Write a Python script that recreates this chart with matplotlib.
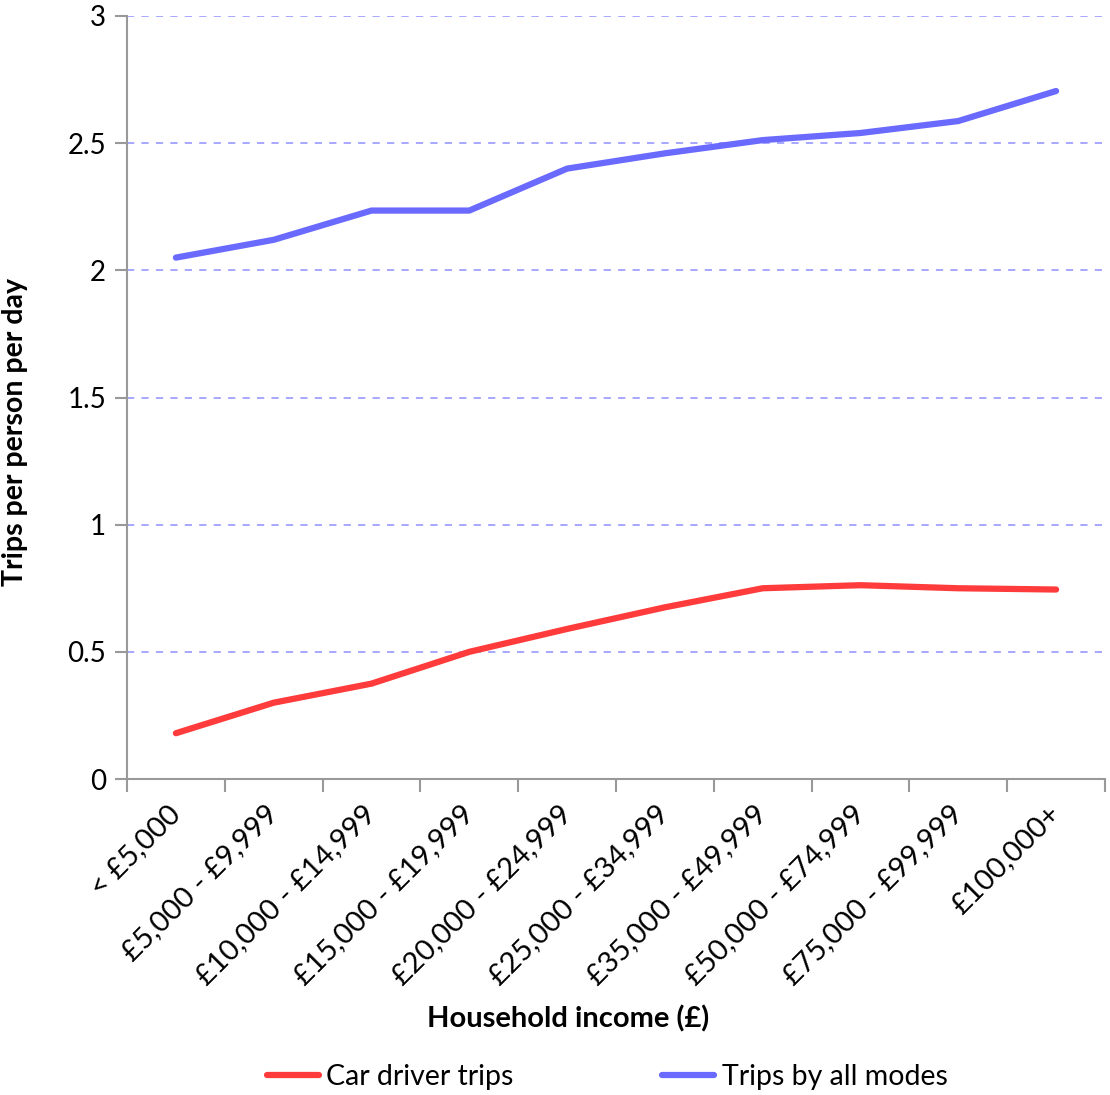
import matplotlib
matplotlib.use("Agg")
import matplotlib.pyplot as plt
import numpy as np

plt.rcParams['font.family'] = ['Lato', 'DejaVu Sans']

income_bands = ["< £5,000", "£5,000 - £9,999", "£10,000 - £14,999", "£15,000 - £19,999",
                "£20,000 - £24,999", "£25,000 - £34,999", "£35,000 - £49,999",
                "£50,000 - £74,999", "£75,000 - £99,999", "£100,000+"]
car_driver_trips = [0.18, 0.30, 0.375, 0.50, 0.59, 0.675, 0.75, 0.762, 0.75, 0.745]
all_mode_trips = [2.05, 2.12, 2.235, 2.235, 2.40, 2.46, 2.512, 2.54, 2.587, 2.705]

RED = "#ff3b3b"
BLUE = "#6a6aff"
GREY = "#999999"

fig = plt.figure(figsize=(11.1, 10.95), dpi=100)
ax = fig.add_axes([127 / 1110, 1 - 779 / 1095, (1105 - 127) / 1110, (779 - 16) / 1095])

x = np.arange(len(income_bands))
ax.plot(x, car_driver_trips, color=RED, lw=4.5, solid_capstyle='round', label="Car driver trips")
ax.plot(x, all_mode_trips, color=BLUE, lw=4.5, solid_capstyle='round', label="Trips by all modes")

ax.set_xlim(-0.5, len(income_bands) - 0.5)
ax.set_ylim(0, 3)
ax.set_yticks([0, 0.5, 1, 1.5, 2, 2.5, 3])
ax.set_yticklabels(["0", "0.5", "1", "1.5", "2", "2.5", "3"])
ax.set_xticks(x)
ax.set_xticklabels(income_bands, rotation=45, ha='right', va='center', rotation_mode='anchor')
ax.set_xticks(np.arange(-0.5, len(income_bands)), minor=True)
ax.tick_params(axis='x', which='major', length=0, pad=22, labelsize=21)
ax.tick_params(axis='x', which='minor', length=9, width=1.5, color=GREY, direction='out')
ax.tick_params(axis='y', length=9, width=1.5, color=GREY, labelsize=20, pad=6)

ax.yaxis.grid(True, color="#a0a0ff", ls=(0, (4, 4)), lw=1.3)
ax.set_axisbelow(True)
for s in ['top', 'right']:
    ax.spines[s].set_visible(False)
for s in ['left', 'bottom']:
    ax.spines[s].set_color(GREY)
    ax.spines[s].set_linewidth(1.5)

fig.text(568 / 1110, 1 - 1019 / 1095, "Household income (£)", ha='center', va='center',
         fontsize=21, fontweight='bold')
fig.text(15 / 1110, 1 - 432 / 1095, "Trips per person per day", ha='center', va='center',
         rotation=90, fontsize=20.5, fontweight='bold')

fig.legend(loc='center', bbox_to_anchor=(607 / 1110, 1 - 1077 / 1095), ncol=2, frameon=False,
           fontsize=20.5, handlelength=1.85, handletextpad=0.25, columnspacing=5.2)

fig.savefig("out.png", dpi=100)
